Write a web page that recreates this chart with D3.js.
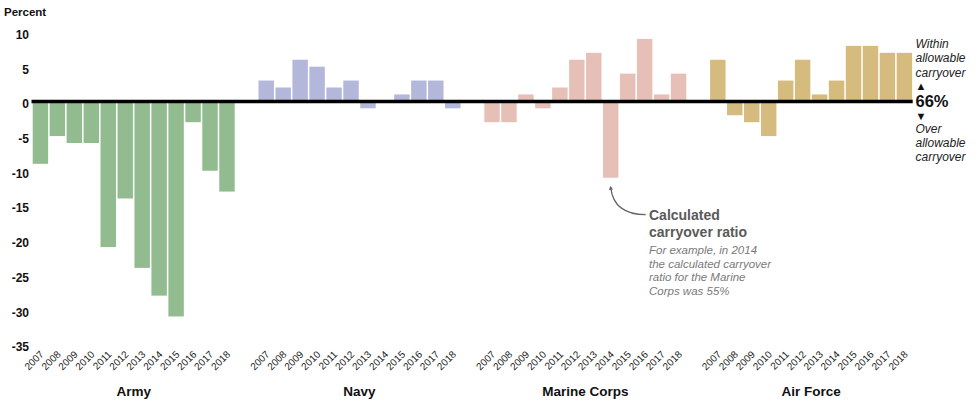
<!DOCTYPE html>
<html>
<head>
<meta charset="utf-8">
<script src="https://cdn.jsdelivr.net/npm/d3@7"></script>
<style>
  html, body { margin: 0; padding: 0; background: #fff; }
  svg { display: block; font-family: Arial, "Liberation Sans", sans-serif; }
</style>
</head>
<body>
<svg id="chart" width="978" height="402"></svg>
<script>
const services = ["Army", "Navy", "Marine Corps", "Air Force"];
const years = ["2007","2008","2009","2010","2011","2012","2013","2014","2015","2016","2017","2018"];
const army = [-9, -5, -6, -6, -21, -14, -24, -28, -31, -3, -10, -13];
const navy = [3, 2, 6, 5, 2, 3, -1, 0, 1, 3, 3, -1];
const marineCorps = [-3, -3, 1, -1, 2, 6, 7, -11, 4, 9, 1, 4];
const airForce = [6, -2, -3, -5, 3, 6, 1, 3, 8, 8, 7, 7];
const seriesValues = [army, navy, marineCorps, airForce];
const colors = ["#92bc8f", "#b3b7d9", "#e6bfb6", "#d5bb7e"];
const yTicks = [10, 5, 0, -5, -10, -15, -20, -25, -30, -35];
const rightTop = ["Within", "allowable", "carryover"];
const rightBottom = ["Over", "allowable", "carryover"];
const threshold = "66%";
const noteTitle = ["Calculated", "carryover ratio"];
const noteBody = ["For example, in 2014", "the calculated carryover", "ratio for the Marine", "Corps was 55%"];

const svg = d3.select("#chart");

const y = d3.scaleLinear().domain([-35, 10]).range([344.2, 32]);
const xOuter = d3.scaleBand().domain(services).range([32.7, 912.1]).paddingInner(0.1054).paddingOuter(0);
const xInner = d3.scaleBand().domain(years).range([0, xOuter.bandwidth()]).paddingInner(0.09).paddingOuter(0);

// y axis label
svg.append("text").attr("x", 4).attr("y", 16)
  .attr("font-size", 11.5).attr("font-weight", "bold").attr("fill", "#111").text("Percent");

// y tick labels
svg.append("g").selectAll("text").data(yTicks).join("text")
  .attr("x", 29).attr("y", d => y(d) + 7)
  .attr("text-anchor", "end").attr("font-size", 12).attr("font-weight", "bold").attr("fill", "#111")
  .text(d => d);

// bars
services.forEach((s, i) => {
  const g = svg.append("g").attr("transform", `translate(${xOuter(s)},0)`);
  const data = years.map((yr, j) => ({ yr, v: seriesValues[i][j] }));
  g.selectAll("rect").data(data.filter(d => d.v !== 0)).join("rect")
    .attr("x", d => xInner(d.yr))
    .attr("width", xInner.bandwidth())
    .attr("y", d => d.v >= 0 ? y(d.v) : y(0))
    .attr("height", d => Math.abs(y(d.v) - y(0)))
    .attr("fill", colors[i]);

  // year labels
  g.selectAll("text.yr").data(years).join("text")
    .attr("class", "yr")
    .attr("transform", d => `translate(${xInner(d) + xInner.bandwidth() / 2 + 4},${355}) rotate(-45)`)
    .attr("text-anchor", "end")
    .attr("font-size", 10).attr("fill", "#222")
    .text(d => d);

  // group label
  svg.append("text")
    .attr("x", xOuter(s) + xOuter.bandwidth() / 2).attr("y", 396)
    .attr("text-anchor", "middle").attr("font-size", 13.5).attr("font-weight", "bold").attr("fill", "#111")
    .text(s);
});

// zero line
svg.append("line")
  .attr("x1", 31.5).attr("x2", 912.7)
  .attr("y1", y(0)).attr("y2", y(0))
  .attr("stroke", "#000").attr("stroke-width", 3.5);

// right annotation
const rx = 915.5;
svg.append("g").selectAll("text").data(rightTop).join("text")
  .attr("x", rx).attr("y", (d, i) => 48 + i * 14.3)
  .attr("font-size", 12).attr("font-style", "italic").attr("fill", "#222").text(d => d);
svg.append("text").attr("x", rx).attr("y", 90).attr("font-size", 11).attr("fill", "#111").text("▲");
svg.append("text").attr("x", rx).attr("y", 107).attr("font-size", 16.5).attr("font-weight", "bold").attr("fill", "#111").text(threshold);
svg.append("text").attr("x", rx).attr("y", 120).attr("font-size", 11).attr("fill", "#111").text("▼");
svg.append("g").selectAll("text").data(rightBottom).join("text")
  .attr("x", rx).attr("y", (d, i) => 132.5 + i * 14.3)
  .attr("font-size", 12).attr("font-style", "italic").attr("fill", "#222").text(d => d);

// callout for Marine Corps 2014
const mcX = xOuter("Marine Corps") + xInner("2014") + xInner.bandwidth() / 2;
const mcY = y(-11);
svg.append("defs").append("marker")
  .attr("id", "ah").attr("viewBox", "0 0 10 10").attr("refX", 5).attr("refY", 5)
  .attr("markerWidth", 3.2).attr("markerHeight", 3.2).attr("orient", "auto-start-reverse")
  .append("path").attr("d", "M0,0 L10,5 L0,10 Z").attr("fill", "#666");
svg.append("path")
  .attr("d", `M${mcX + 35},${mcY + 37} Q${mcX + 3},${mcY + 37} ${mcX},${mcY + 10}`)
  .attr("fill", "none").attr("stroke", "#666").attr("stroke-width", 1.3)
  .attr("marker-end", "url(#ah)");
svg.append("g").selectAll("text").data(noteTitle).join("text")
  .attr("x", 649).attr("y", (d, i) => 220 + i * 16.5)
  .attr("font-size", 14).attr("font-weight", "bold").attr("fill", "#5a5a5a").text(d => d);
svg.append("g").selectAll("text").data(noteBody).join("text")
  .attr("x", 649).attr("y", (d, i) => 254 + i * 13.7)
  .attr("font-size", 11.5).attr("font-style", "italic").attr("fill", "#7a7a7a").text(d => d);
</script>
</body>
</html>
